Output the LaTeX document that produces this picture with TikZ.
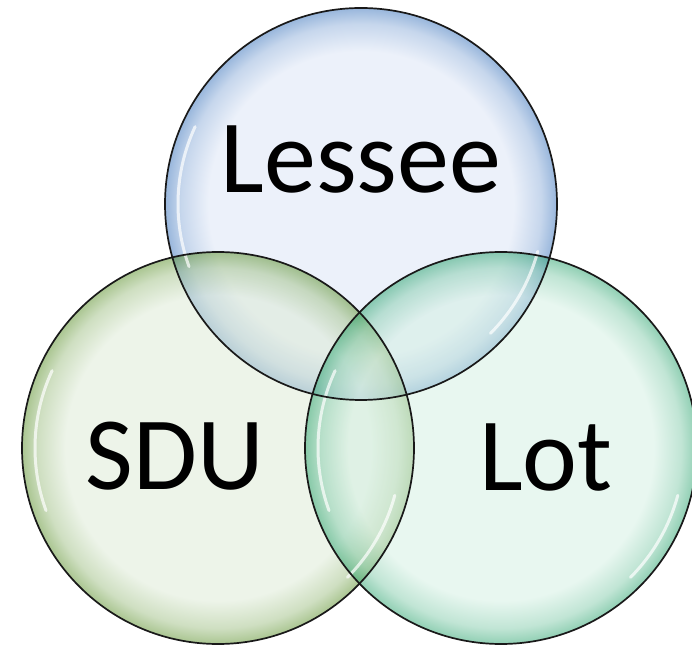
\documentclass[tikz,border=0pt]{standalone}
\usepackage[dvipsnames]{xcolor}
\usepackage{fontspec}
\setmainfont{Carlito}
\definecolor{bluein}{RGB}{217,227,245}
\definecolor{bluerim}{RGB}{50,110,185}
\definecolor{greenin}{RGB}{219,233,211}
\definecolor{greenrim}{RGB}{85,140,35}
\definecolor{tealin}{RGB}{209,239,225}
\definecolor{tealrim}{RGB}{35,160,105}
\pgfdeclareradialshading{bubbleblue}{\pgfpoint{0bp}{0bp}}{color(0bp)=(bluein); color(19.5bp)=(bluein); color(23bp)=(bluerim!45!bluein); color(25bp)=(bluerim); color(50bp)=(bluerim)}
\pgfdeclareradialshading{bubblegreen}{\pgfpoint{0bp}{0bp}}{color(0bp)=(greenin); color(19.5bp)=(greenin); color(23bp)=(greenrim!45!greenin); color(25bp)=(greenrim); color(50bp)=(greenrim)}
\pgfdeclareradialshading{bubbleteal}{\pgfpoint{0bp}{0bp}}{color(0bp)=(tealin); color(19.5bp)=(tealin); color(23bp)=(tealrim!45!tealin); color(25bp)=(tealrim); color(50bp)=(tealrim)}
\begin{document}
\begin{tikzpicture}[x=1pt,y=1pt,
    bubble/.style={circle,fill opacity=0.5,minimum size=392pt,inner sep=0pt},
    rim/.style={draw=black!90,line width=1.7pt},
    gloss/.style={white,line width=3pt,draw opacity=0.7,line cap=round},
    set label/.style={anchor=base,font=\fontsize{104}{110}\selectfont}]
    \useasboundingbox (0,0) rectangle (692,647);
    \begin{scope}
    \clip (0,0) rectangle (692,647);
    \node[bubble,shading=bubbleblue] (lessee) at (361,443) {};
    \node[bubble,shading=bubblegreen] (sdu) at (218,199) {};
    \node[bubble,shading=bubbleteal] (lot) at (501,199) {};

    % glossy highlights
    \foreach \c in {lessee,sdu,lot}{
        \draw[gloss] ([shift={(155:183pt)}]\c.center) arc[start angle=155,end angle=200,radius=183pt];
        \draw[gloss] ([shift={(-45:183pt)}]\c.center) arc[start angle=-45,end angle=-15,radius=183pt];
    }
    % outlines on top
    \foreach \c in {lessee,sdu,lot}
        \draw[rim] (\c.center) circle (196pt);
    \end{scope}

    \node[set label] (t1) at (361,454) {Lessee};
    \node[set label] (t2) at (175,157) {SDU};
    \node[set label] (t3) at (546,156) {Lot};
\end{tikzpicture}
\end{document}
